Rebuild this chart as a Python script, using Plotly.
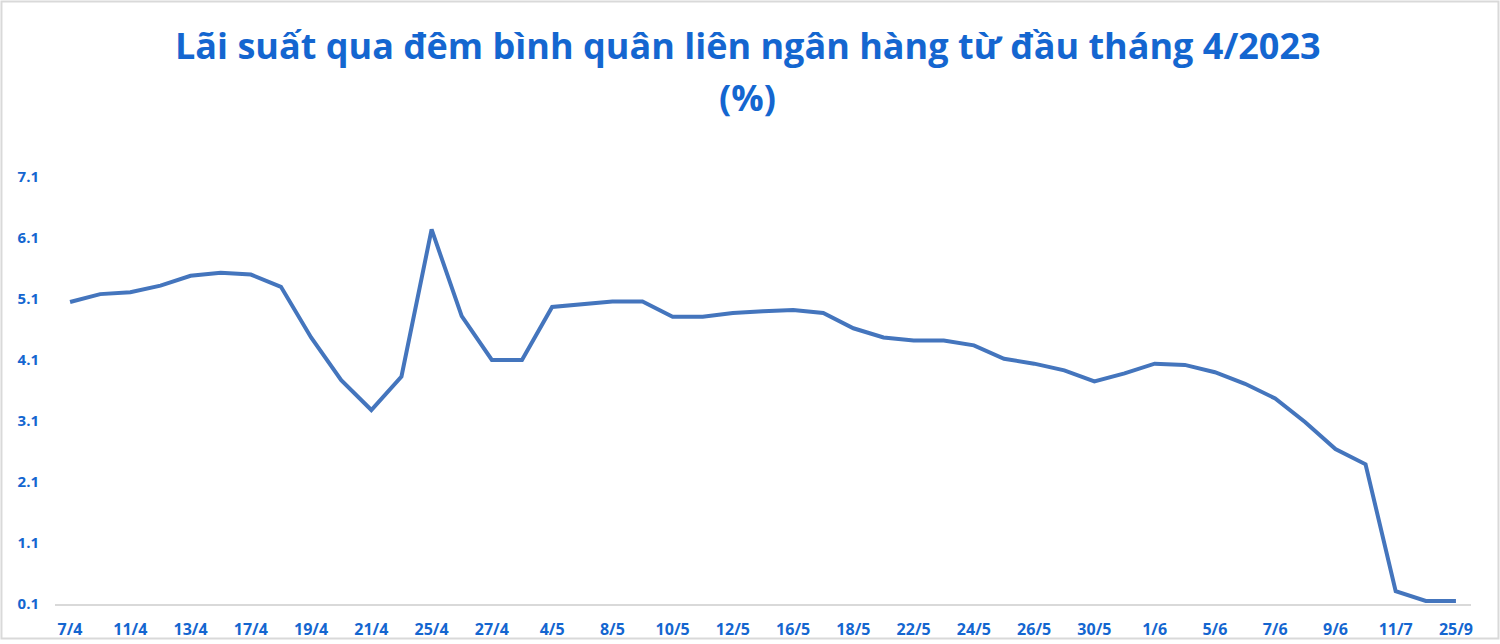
"""
Overnight interbank rate line chart using Plotly
"""
import plotly.graph_objects as go

# every second date gets a label on the axis
date_labels = ['7/4', '11/4', '13/4', '17/4', '19/4', '21/4', '25/4', '27/4',
               '4/5', '8/5', '10/5', '12/5', '16/5', '18/5', '22/5', '24/5',
               '26/5', '30/5', '1/6', '5/6', '7/6', '9/6', '11/7', '25/9']

rates = [5.05, 5.18, 5.21, 5.32, 5.48, 5.53, 5.50, 5.30, 4.47, 3.77,
         3.28, 3.83, 6.24, 4.82, 4.10, 4.10, 4.97, 5.02, 5.06, 5.06,
         4.81, 4.81, 4.87, 4.90, 4.92, 4.87, 4.62, 4.47, 4.42, 4.42,
         4.34, 4.12, 4.04, 3.93, 3.75, 3.88, 4.04, 4.02, 3.90, 3.71,
         3.47, 3.08, 2.64, 2.39, 0.31, 0.15, 0.15]

y_ticks = [0.1, 1.1, 2.1, 3.1, 4.1, 5.1, 6.1, 7.1]

BLUE = '#1466d0'
FONT = 'Open Sans'

points = list(range(len(rates)))

fig = go.Figure()
fig.add_trace(go.Scatter(
    x=points,
    y=rates,
    mode='lines',
    line=dict(color='#4475bd', width=4),
    hoverinfo='y'
))

fig.update_layout(
    width=1500,
    height=644,
    margin=dict(l=55, r=29, t=177, b=40),
    paper_bgcolor='white',
    plot_bgcolor='white',
    showlegend=False,
    xaxis=dict(
        range=[-0.5, len(rates) - 0.5],
        tickvals=points[::2],
        ticktext=date_labels,
        showgrid=False,
        zeroline=False,
        showline=True,
        linecolor='#d9d9d9',
        linewidth=2,
        ticks='',
        automargin=False,
        ticklabelstandoff=10,
        tickfont=dict(family=FONT, size=16, color=BLUE, weight='bold')
    ),
    yaxis=dict(
        range=[0.1, 7.1],
        tickvals=y_ticks,
        tickformat='.1f',
        showgrid=False,
        zeroline=False,
        showline=False,
        ticks='',
        automargin=False,
        ticklabelstandoff=15,
        tickfont=dict(family=FONT, size=15, color=BLUE, weight='bold')
    ),
    annotations=[
        dict(text='Lãi suất qua đêm bình quân liên ngân hàng từ đầu tháng 4/2023',
             xref='paper', yref='paper', x=0.4894, y=1.309,
             xanchor='center', yanchor='middle', showarrow=False,
             font=dict(family=FONT, size=36, color=BLUE, weight='bold')),
        dict(text='(%)',
             xref='paper', yref='paper', x=0.4894, y=1.187,
             xanchor='center', yanchor='middle', showarrow=False,
             font=dict(family=FONT, size=36, color=BLUE, weight='bold')),
    ],
    shapes=[
        dict(type='rect', xref='paper', yref='paper',
             x0=-0.0378, x1=1.0194, y0=-0.0808, y1=1.411,
             line=dict(color='#d9d9d9', width=2), layer='below')
    ]
)

# drop the browser's default page margin so the chart sits at the window edge
fig.write_html("out.html", config={'displayModeBar': False},
               post_script="document.body.style.margin = '0';")
